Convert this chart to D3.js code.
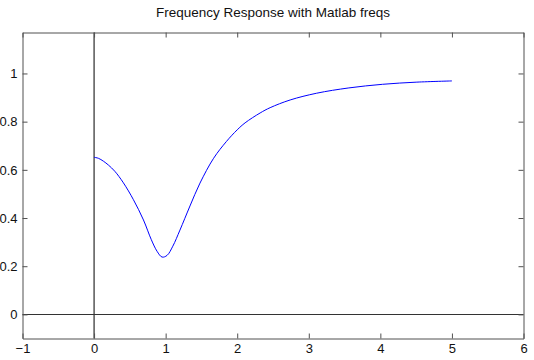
<!DOCTYPE html>
<html>
<head>
<meta charset="utf-8">
<script src="https://cdn.jsdelivr.net/npm/d3@7"></script>
<style>
  body { margin: 0; background: #fff; }
  text { font-family: "Liberation Sans", Arial, sans-serif; }
</style>
</head>
<body>
<div id="chart"></div>
<script>
// data
const freq = [0, 0.06, 0.13, 0.2, 0.29, 0.41, 0.55, 0.69, 0.8, 0.88, 0.95, 1.02, 1.1, 1.2, 1.34, 1.48, 1.67, 1.85, 2.0, 2.11, 2.32, 2.46, 2.74, 3.11, 3.56, 4.03, 4.51, 5.0]
const mag  = [0.652, 0.648, 0.636, 0.620, 0.594, 0.546, 0.476, 0.392, 0.310, 0.262, 0.238, 0.245, 0.283, 0.350, 0.450, 0.545, 0.648, 0.718, 0.766, 0.795, 0.836, 0.858, 0.890, 0.918, 0.940, 0.955, 0.964, 0.969]
const xTicks = [-1, 0, 1, 2, 3, 4, 5, 6]
const yTicks = [0, 0.2, 0.4, 0.6, 0.8, 1]
const title = "Frequency Response with Matlab freqs"

const WIDTH = 534
const HEIGHT = 360
const margin = { top: 32.5, right: 10.5, bottom: 21.5, left: 22.5 }
const axisColor = "#505050"

const svg = d3.select("#chart")
    .append("svg")
    .attr("width", WIDTH)
    .attr("height", HEIGHT)

const x = d3.scaleLinear().domain([-1, 6]).range([margin.left, WIDTH - margin.right])
const y = d3.scaleLinear().domain([-0.1, 1.17]).range([HEIGHT - margin.bottom, margin.top])

// zero lines
svg.append("line")
    .attr("x1", x(0)).attr("x2", x(0))
    .attr("y1", y.range()[0]).attr("y2", y.range()[1])
    .attr("stroke", "#000")
svg.append("line")
    .attr("x1", x.range()[0]).attr("x2", x.range()[1])
    .attr("y1", Math.round(y(0)) + 0.5).attr("y2", Math.round(y(0)) + 0.5)
    .attr("stroke", "#333")

// curve
const line = d3.line()
    .x((d, i) => x(freq[i]))
    .y(d => y(d))
    .curve(d3.curveCatmullRom)

svg.append("path")
    .datum(mag)
    .attr("d", line)
    .attr("fill", "none")
    .attr("stroke", "#0000ff")
    .attr("stroke-width", 1)

// axes: ticks inside, on all four sides
const tick = 5
svg.append("g")
    .attr("transform", `translate(0,${y.range()[0]})`)
    .call(d3.axisBottom(x).tickValues(xTicks).tickSizeInner(-tick).tickSizeOuter(0).tickPadding(5).tickFormat(d3.format("d")))
svg.append("g")
    .attr("transform", `translate(0,${y.range()[1]})`)
    .call(d3.axisTop(x).tickValues(xTicks).tickSizeInner(-tick).tickSizeOuter(0).tickFormat(""))
svg.append("g")
    .attr("transform", `translate(${x.range()[0]},0)`)
    .call(d3.axisLeft(y).tickValues(yTicks).tickSizeInner(-tick).tickSizeOuter(0).tickPadding(5).tickFormat(d => d === 0 || d === 1 ? d3.format("d")(d) : d3.format(".1f")(d)))
svg.append("g")
    .attr("transform", `translate(${x.range()[1]},0)`)
    .call(d3.axisRight(y).tickValues(yTicks).tickSizeInner(-tick).tickSizeOuter(0).tickFormat(""))

svg.selectAll(".domain, .tick line").attr("stroke", axisColor)
svg.selectAll(".tick text")
    .attr("fill", "#111")
    .style("font-size", "13px")
    .style("font-family", "\"Liberation Sans\", Arial, sans-serif")

// title
svg.append("text")
    .attr("x", (x.range()[0] + x.range()[1]) / 2)
    .attr("y", 17)
    .attr("text-anchor", "middle")
    .attr("fill", "#111")
    .style("font-size", "13.5px")
    .text(title)
</script>
</body>
</html>
